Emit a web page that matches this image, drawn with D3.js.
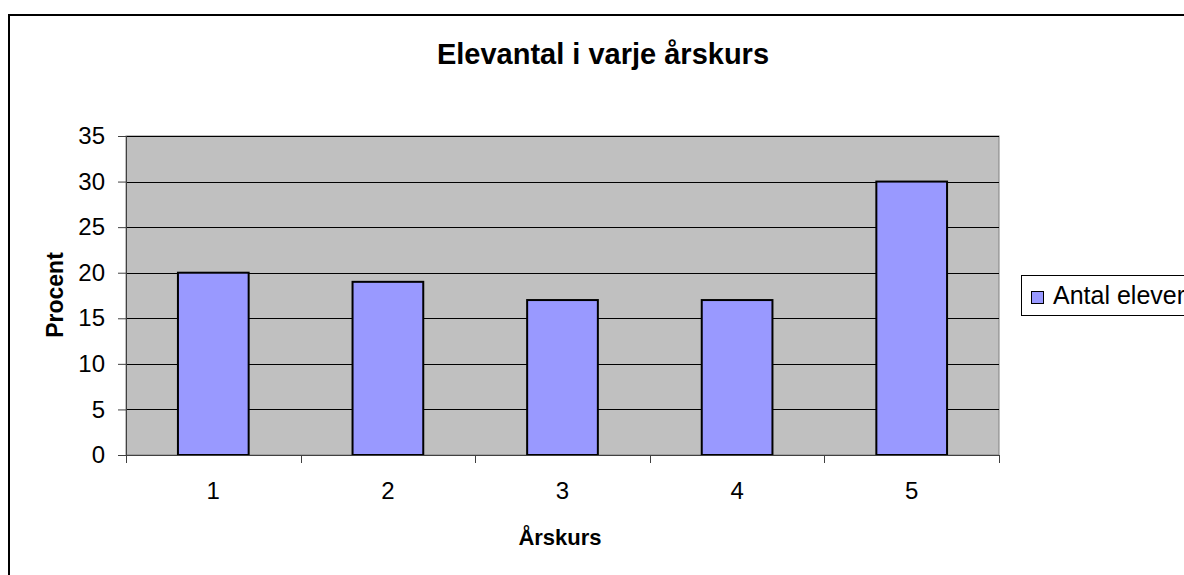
<!DOCTYPE html>
<html>
<head>
<meta charset="utf-8">
<script src="https://cdn.jsdelivr.net/npm/d3@7"></script>
<style>
  body { margin: 0; background: #fff; }
  text { font-family: Arial, "Liberation Sans", sans-serif; fill: #000; }
</style>
</head>
<body>
<div id="chart"></div>
<script>
// data
var years = ["1", "2", "3", "4", "5"];
var values = [20, 19, 17, 17, 30];
var yTicks = [0, 5, 10, 15, 20, 25, 30, 35];
var seriesName = "Antal elever";

var W = 1184, H = 575;
var plot = {left: 126, top: 136, right: 999, bottom: 455};

var svg = d3.select("#chart")
  .append("svg")
    .attr("width", W)
    .attr("height", H);

// outer chart border (cut off at right/bottom)
svg.append("rect")
  .attr("x", 9).attr("y", 15)
  .attr("width", W + 10).attr("height", H + 10)
  .attr("fill", "#fff")
  .attr("stroke", "#000")
  .attr("stroke-width", 2);

// scales
var x = d3.scaleBand()
  .domain(years)
  .range([plot.left, plot.right])
  .paddingInner(0.595)
  .paddingOuter(0.2975);

var xGroup = d3.scaleBand()
  .domain(years)
  .range([plot.left, plot.right]);

var y = d3.scaleLinear()
  .domain([0, 35])
  .range([plot.bottom, plot.top]);

// plot background
svg.append("rect")
  .attr("x", plot.left).attr("y", plot.top)
  .attr("width", plot.right - plot.left)
  .attr("height", plot.bottom - plot.top)
  .attr("fill", "#c0c0c0")
  .attr("stroke", "#808080")
  .attr("stroke-width", 1);

// gridlines
svg.append("g")
  .selectAll("line")
  .data(yTicks.filter(function(d) { return d > 0; }))
  .enter()
  .append("line")
    .attr("x1", plot.left).attr("x2", plot.right)
    .attr("y1", function(d) { return Math.round(y(d)) + 0.5; })
    .attr("y2", function(d) { return Math.round(y(d)) + 0.5; })
    .attr("stroke", "#000")
    .attr("stroke-width", 1);

// bars
svg.append("g")
  .selectAll("rect")
  .data(values)
  .enter()
  .append("rect")
    .attr("x", function(d, i) { return x(years[i]); })
    .attr("y", function(d) { return y(d); })
    .attr("width", x.bandwidth())
    .attr("height", function(d) { return plot.bottom - y(d); })
    .attr("fill", "#9999ff")
    .attr("stroke", "#000")
    .attr("stroke-width", 2);

// y axis
var yAxis = svg.append("g")
  .attr("transform", "translate(" + plot.left + ",0)")
  .call(d3.axisLeft(y).tickValues(yTicks).tickSize(8).tickPadding(13));
yAxis.selectAll("text")
  .style("font-size", "24px")
  .style("font-family", "Arial, 'Liberation Sans', sans-serif")
  .attr("fill", "#000");
yAxis.selectAll("line").attr("stroke", "#404040");
yAxis.select(".domain").attr("stroke", "#404040").attr("d", "M0.5," + plot.top + "V" + plot.bottom);

// x axis: ticks at category boundaries
var xAxis = svg.append("g")
  .attr("transform", "translate(0," + plot.bottom + ")");
xAxis.append("line")
  .attr("x1", plot.left - 8).attr("x2", plot.right)
  .attr("y1", 0.5).attr("y2", 0.5)
  .attr("stroke", "#404040");
var bounds = years.map(function(d) { return xGroup(d); }).concat([plot.right]);
xAxis.selectAll(".tk")
  .data(bounds)
  .enter()
  .append("line")
    .attr("class", "tk")
    .attr("x1", function(d) { return Math.round(d) + 0.5; })
    .attr("x2", function(d) { return Math.round(d) + 0.5; })
    .attr("y1", 0).attr("y2", 8)
    .attr("stroke", "#404040");
xAxis.selectAll(".lbl")
  .data(years)
  .enter()
  .append("text")
    .attr("class", "lbl")
    .attr("x", function(d) { return xGroup(d) + xGroup.bandwidth() / 2; })
    .attr("y", 44)
    .attr("text-anchor", "middle")
    .style("font-size", "24px")
    .text(function(d) { return d; });

// title
svg.append("text")
  .attr("x", 603).attr("y", 64)
  .attr("text-anchor", "middle")
  .style("font-size", "29px")
  .style("font-weight", "bold")
  .text("Elevantal i varje årskurs");

// axis titles
svg.append("text")
  .attr("transform", "translate(63,295) rotate(-90)")
  .attr("text-anchor", "middle")
  .style("font-size", "23px")
  .style("font-weight", "bold")
  .text("Procent");

svg.append("text")
  .attr("x", 560).attr("y", 545)
  .attr("text-anchor", "middle")
  .style("font-size", "22px")
  .style("font-weight", "bold")
  .text("Årskurs");

// legend
var legend = svg.append("g");
legend.append("rect")
  .attr("x", 1021.5).attr("y", 275.5)
  .attr("width", 200).attr("height", 40)
  .attr("fill", "#fff")
  .attr("stroke", "#000")
  .attr("stroke-width", 1);
legend.append("rect")
  .attr("x", 1031.5).attr("y", 291.5)
  .attr("width", 12).attr("height", 12)
  .attr("fill", "#9999ff")
  .attr("stroke", "#000")
  .attr("stroke-width", 1);
legend.append("text")
  .attr("x", 1053).attr("y", 304)
  .style("font-size", "25px")
  .text(seriesName);
</script>
</body>
</html>
